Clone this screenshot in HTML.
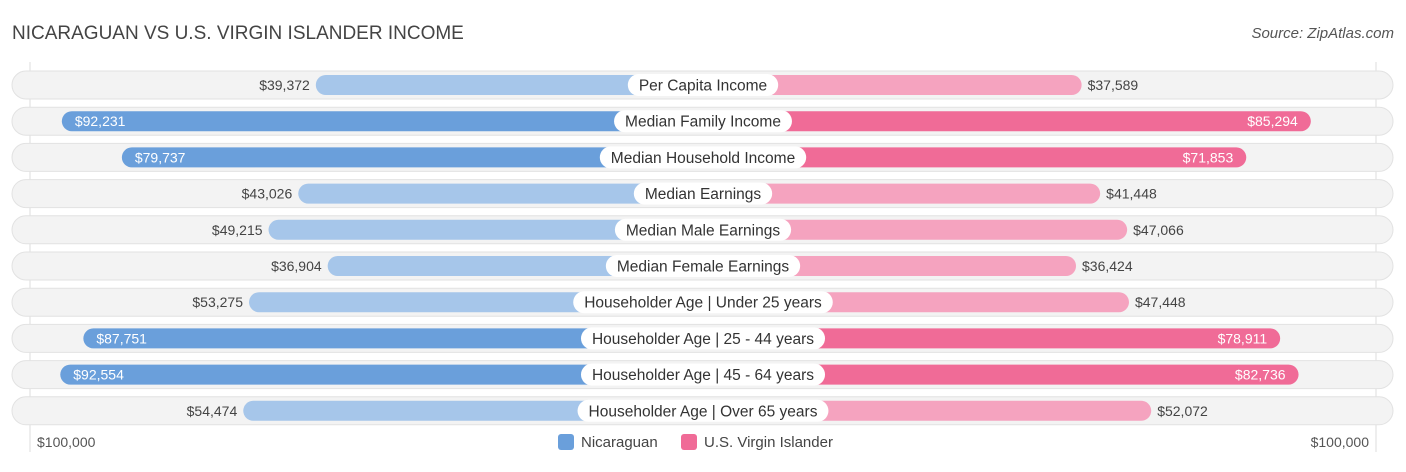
<!DOCTYPE html>
<html><head><meta charset="utf-8"><style>
body{margin:0;width:1406px;height:467px;background:#fff;font-family:"Liberation Sans",sans-serif;overflow:hidden}
</style></head><body>
<svg width="1406" height="467" xmlns="http://www.w3.org/2000/svg" font-family="Liberation Sans, sans-serif">
<text x="12" y="39" font-size="19" fill="#444">NICARAGUAN VS U.S. VIRGIN ISLANDER INCOME</text>
<text x="1394" y="38" font-size="15" fill="#555" font-style="italic" text-anchor="end">Source: ZipAtlas.com</text>
<line x1="30" y1="62" x2="30" y2="452" stroke="#ddd"/>
<line x1="1376" y1="62" x2="1376" y2="452" stroke="#ddd"/>
<g id="rows"></g>
<text x="37" y="447" font-size="14" fill="#555">$100,000</text>
<text x="1369" y="447" font-size="14" fill="#555" text-anchor="end">$100,000</text>
<rect x="558" y="434" width="16" height="16" rx="3" fill="#6a9fdb"/>
<text x="581" y="447" font-size="15" fill="#444">Nicaraguan</text>
<rect x="681" y="434" width="16" height="16" rx="3" fill="#f06b97"/>
<text x="704" y="447" font-size="15" fill="#444">U.S. Virgin Islander</text>
</svg>
<script>
const categories=["Per Capita Income","Median Family Income","Median Household Income","Median Earnings","Median Male Earnings","Median Female Earnings","Householder Age | Under 25 years","Householder Age | 25 - 44 years","Householder Age | 45 - 64 years","Householder Age | Over 65 years"];
const nicaraguan=[39372,92231,79737,43026,49215,36904,53275,87751,92554,54474];
const usvi=[37589,85294,71853,41448,47066,36424,47448,78911,82736,52072];
const NS="http://www.w3.org/2000/svg";
const cx=703;
function half(v){return 198+4.805*v/1000;}
function rowY(i){return 85+i*36.2;}
function fmt(v){return "$"+v.toLocaleString("en-US");}
const g=document.getElementById("rows");
function mk(tag,attrs){const e=document.createElementNS(NS,tag);for(const k in attrs)e.setAttribute(k,attrs[k]);g.appendChild(e);return e;}
categories.forEach((c,i)=>{
  const y=rowY(i);
  const bg=mk("rect",{x:12,y:y-14,width:1381,height:28,rx:14,fill:"#f3f3f3",stroke:"#e2e2e2"});
  
  
  const lv=nicaraguan[i],rv=usvi[i];
  const lw=half(lv),rw=half(rv);
  const lStrong=lv>70000,rStrong=rv>70000;
  const lb=mk("rect",{x:cx-lw,y:y-10,width:lw,height:20,rx:10,fill:lStrong?"#6a9fdb":"#a6c6ea"});
  
  
  const rb=mk("rect",{x:cx,y:y-10,width:rw,height:20,rx:10,fill:rStrong?"#f06b97":"#f5a3bf"});
  
  
  const lt=mk("text",{x:lStrong?cx-lw+13:cx-lw-6,y:y+5,"font-size":14,fill:lStrong?"#fff":"#444","text-anchor":lStrong?"start":"end"});
  lt.textContent=fmt(lv);
  
  
  const rt=mk("text",{x:rStrong?cx+rw-13:cx+rw+6,y:y+5,"font-size":14,fill:rStrong?"#fff":"#444","text-anchor":rStrong?"end":"start"});
  rt.textContent=fmt(rv);
  
  
  const lab=mk("text",{x:cx,y:y+5.5,"font-size":15.5,fill:"#333","text-anchor":"middle"});
  lab.textContent=c;
  
  
  const w=lab.getComputedTextLength()+22;
  const pill=mk("rect",{x:cx-w/2,y:y-11,width:w,height:22,rx:11,fill:"#fff"});
  
  
  g.insertBefore(pill,lab);
});
</script>
</body></html>
